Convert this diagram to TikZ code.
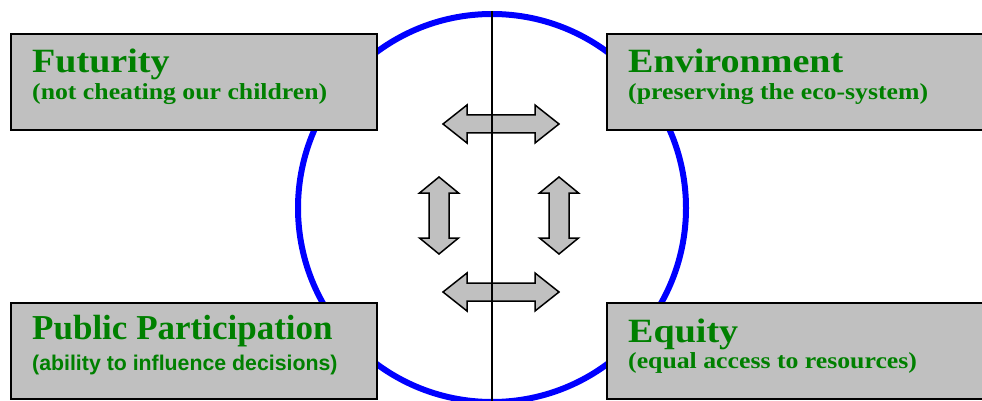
\documentclass[tikz,border=0pt]{standalone}
\usepackage{fontspec}
\setmainfont{Liberation Serif}
\newfontfamily\georgiafont[FakeStretch=1.12]{Liberation Serif}
\newfontfamily\arialfont{Liberation Sans}
\usepackage{tikz}
\usetikzlibrary{positioning}
\definecolor{ringblue}{RGB}{0,0,255}
\definecolor{boxgray}{RGB}{192,192,192}
\definecolor{textgreen}{RGB}{0,128,0}

\tikzset{
  pics/dblarrow/.style args={#1/#2/#3/#4}{code={
    \draw[arrowfill] (-#1,0) -- (-#1+#4,-#2) -- (-#1+#4,-#3) -- (#1-#4,-#3) -- (#1-#4,-#2)
      -- (#1,0) -- (#1-#4,#2) -- (#1-#4,#3) -- (-#1+#4,#3) -- (-#1+#4,#2) -- cycle;
  }}
}

\begin{document}
\begin{tikzpicture}[x=1pt, y=-1pt,
ring/.style={draw=ringblue, line width=6pt, circle, minimum size=388pt, inner sep=0pt},
box/.style={draw=black, line width=2pt, fill=boxgray, minimum height=96pt, inner sep=0pt},
title/.style={anchor=base west, inner sep=0pt, text=textgreen, font=\georgiafont\bfseries\fontsize{34}{38}\selectfont},
sub/.style={anchor=base west, inner sep=0pt, text=textgreen, font=\georgiafont\bfseries\fontsize{23}{26}\selectfont},
arrowfill/.style={draw=black, line width=1.5pt, fill=boxgray, line join=miter}
]
\useasboundingbox (0,0) rectangle (982,401);

% circle and divider
\node[ring] (ring) at (492,208) {};
\coordinate (bottom) at (492,402);

% exchange arrows
\pic at (501,124) {dblarrow=58/19/9/24};
\pic at (501,292) {dblarrow=58/19/9/24};
\pic[rotate=90] at (439,215.5) {dblarrow=38.5/19.5/10/16};
\pic[rotate=90] at (559,215.5) {dblarrow=38.5/19.5/10/16};

\draw[line width=1.5pt] (ring.north) -- (bottom);

% the four boxes
\node[box, minimum width=366pt] (futurity) at (194,82) {};
\node[box, minimum width=380pt] (environment) at (797,82) {};
\node[box, minimum width=366pt] (participation) at (194,350.5) {};
\node[box, minimum width=380pt] (equity) at (797,350.5) {};

\node[title] (futtitle) at (32,73) {Futurity};
\node[sub] (futsub) at (32,100) {(not cheating our children)};
\node[title] (envtitle) at (628,73) {Environment};
\node[sub] (envsub) at (628,100) {(preserving the eco-system)};
\node[title, font=\bfseries\fontsize{35}{40}\selectfont] (partitle) at (32,339) {Public Participation};
\node[sub, font=\arialfont\bfseries\fontsize{21.3}{24}\selectfont] (parsub) at (32,370) {(ability to influence decisions)};
\node[title] (eqtitle) at (628,342) {Equity};
\node[sub] (eqsub) at (628,368) {(equal access to resources)};
\end{tikzpicture}
\end{document}
